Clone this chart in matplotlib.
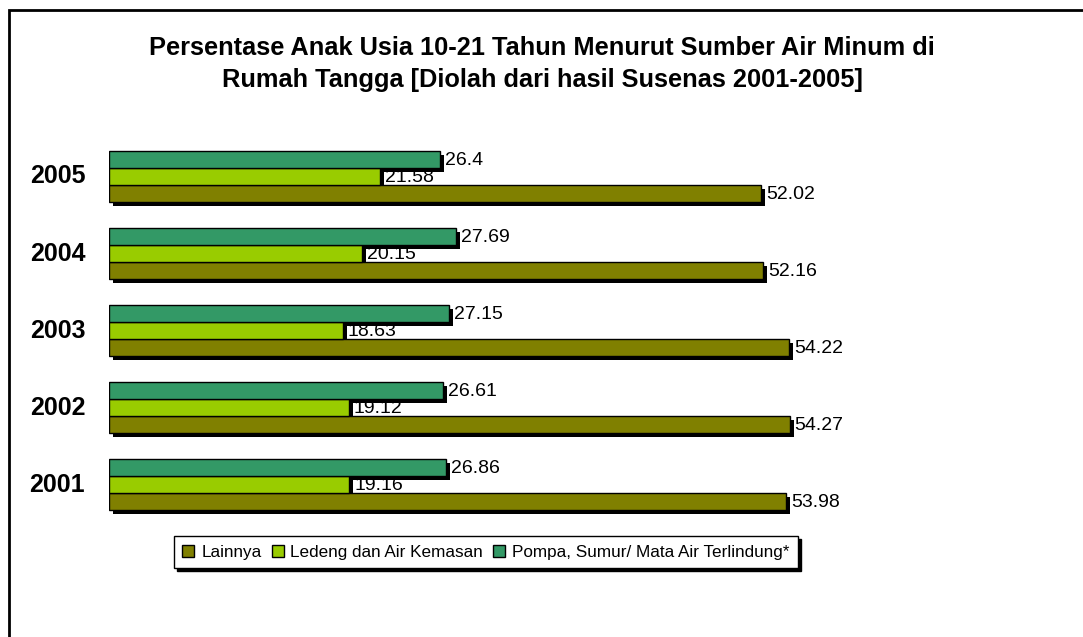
import numpy as np
import matplotlib
matplotlib.use("Agg")
import matplotlib.pyplot as plt
from matplotlib.transforms import ScaledTranslation
from matplotlib.patches import Rectangle

years = ["2001", "2002", "2003", "2004", "2005"]
lainnya = [53.98, 54.27, 54.22, 52.16, 52.02]
ledeng = [19.16, 19.12, 18.63, 20.15, 21.58]
pompa = [26.86, 26.61, 27.15, 27.69, 26.4]

series_names = ["Lainnya", "Ledeng dan Air Kemasan", "Pompa, Sumur/ Mata Air Terlindung*"]
colors = ["#808000", "#99CC00", "#339966"]

plt.rcParams['font.family'] = ['Liberation Sans', 'DejaVu Sans']

W, H = 1083, 637
fig = plt.figure(figsize=(W / 100, H / 100), dpi=100)

# outer frame of the chart area (runs off the right and bottom edge)
fig.add_artist(Rectangle((9 / W, -0.05), 1.2, 1 - 10 / H + 0.05, transform=fig.transFigure,
                         fill=False, edgecolor="black", linewidth=2))

# axes placed so that x=0 sits at px 109 and one unit is ~12.54 px
x_max = 60
ax_left, ax_w = 109, 60 * 12.54
y_lo, y_hi = -0.7, 4.7
gap = 77.1
ax_top = 176.5 - 0.7 * gap
ax_h = (y_hi - y_lo) * gap
ax = fig.add_axes([ax_left / W, 1 - (ax_top + ax_h) / H, ax_w / W, ax_h / H])
ax.set_xlim(0, x_max)
ax.set_ylim(y_lo, y_hi)
ax.axis("off")

y = np.arange(len(years))
bh = 17 / gap
offsets = [-bh, 0, bh]
shadow = ax.transData + ScaledTranslation(4 / 100, -4 / 100, fig.dpi_scale_trans)

for vals, off, col in zip([lainnya, ledeng, pompa], offsets, colors):
    ax.barh(y + off, vals, height=bh, color="black", transform=shadow, zorder=2)
    ax.barh(y + off, vals, height=bh, color=col, edgecolor="black", linewidth=1, zorder=3)
    for yi, v in zip(y, vals):
        ax.text(v + 0.4, yi + off - 0.01, f"{v:g}", va="center", ha="left", fontsize=14, zorder=1)

for yi, lab in zip(y, years):
    ax.text(-1.9, yi, lab, ha="right", va="center", fontsize=18, fontweight="bold")

fig.text(542 / W, 1 - 64 / H,
         "Persentase Anak Usia 10-21 Tahun Menurut Sumber Air Minum di\nRumah Tangga [Diolah dari hasil Susenas 2001-2005]",
         ha="center", va="center", fontsize=18.3, fontweight="bold", linespacing=1.42)

handles = [Rectangle((0, 0), 1, 1, facecolor=c, edgecolor="black", linewidth=1) for c in colors]
leg = fig.legend(handles, series_names, loc="center", bbox_to_anchor=(486 / W, 1 - 552 / H),
                 ncol=3, frameon=True, fancybox=False,
                 shadow={"color": "black", "alpha": 1}, fontsize=12.3,
                 handlelength=0.7, handleheight=0.7, handletextpad=0.4, columnspacing=0.6,
                 borderpad=0.5, edgecolor="black")
leg.get_frame().set_linewidth(1)

fig.savefig("out.png", dpi=100, facecolor="white")
